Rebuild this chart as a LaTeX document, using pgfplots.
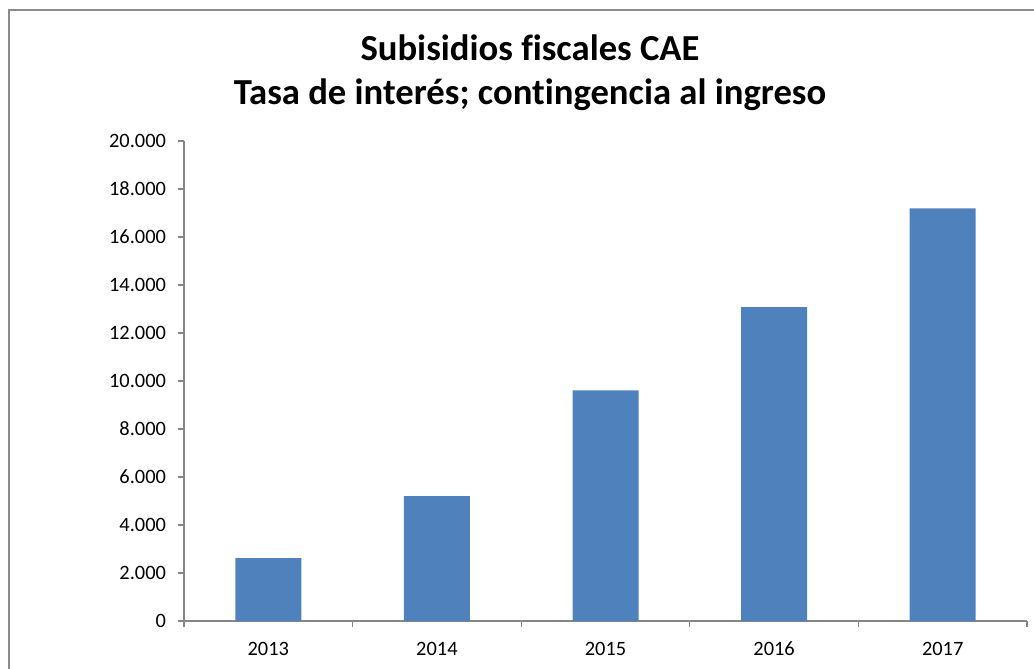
\documentclass[border=0pt]{standalone}
\usepackage{pgfplots}
\pgfplotsset{compat=1.18}
\usepackage{fontspec}
\setmainfont{Carlito}[Ligatures=NoCommon]
\definecolor{barblue}{HTML}{4F81BD}
\definecolor{axisgray}{HTML}{868686}
\definecolor{framegray}{HTML}{8C8C8C}
\begin{document}
\begin{tikzpicture}[x=0.75pt,y=0.75pt]
\useasboundingbox (0,0) rectangle (1034,668);
\draw[framegray, line width=1.2pt] (9,-5) -- (9,658) -- (1040,658);
\node[font=\fontsize{27.5}{32}\selectfont\bfseries] at (530,620) {Subisidios fiscales CAE};
\node[font=\fontsize{27.5}{32}\selectfont\bfseries] at (530,573) {Tasa de interés; contingencia al ingreso};
\begin{axis}[
  at={(138pt,35.25pt)}, anchor=south west,
  scale only axis,
  width=632.25pt, height=360pt,
  xmin=-0.5, xmax=4.5,
  ymin=0, ymax=20000,
  axis x line=bottom, axis y line=left,
  axis line style={axisgray, line width=0.8pt, -},
  xtick={-0.5,0.5,1.5,2.5,3.5,4.5},
  x tick label as interval,
  xticklabels={2013,2014,2015,2016,2017},
  ytick={0,2000,...,20000},
  scaled y ticks=false,
  tick align=outside,
  major tick length=4.5pt,
  tick style={axisgray, line width=0.8pt},
  ticklabel style={font=\fontsize{15.3}{18}\selectfont, text=black},
  yticklabel style={anchor=east, xshift=-5.5pt},
  xticklabel style={anchor=north, text height=10pt, text depth=0pt, yshift=-8pt},
  /pgf/number format/.cd, 1000 sep={.}, assume math mode=true,
]
\addplot[ybar, bar width=49.5pt, fill=barblue, draw=none] coordinates {
  (0,2625) (1,5200) (2,9610) (3,13080) (4,17195)
};
\end{axis}
\end{tikzpicture}
\end{document}
